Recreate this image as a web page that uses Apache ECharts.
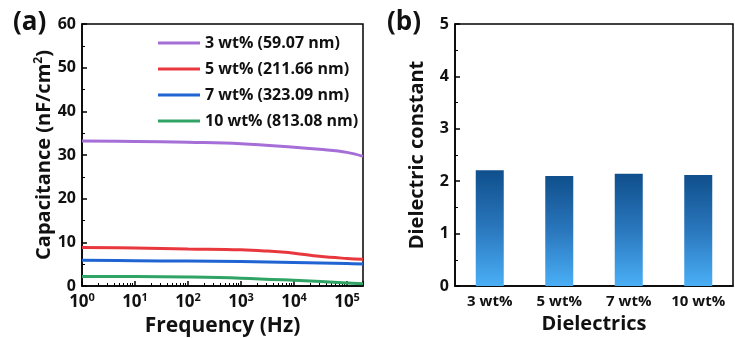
<!DOCTYPE html>
<html><head><meta charset="utf-8">
<script src="https://cdn.jsdelivr.net/npm/echarts@6/dist/echarts.min.js"></script>
<style>html,body{margin:0;padding:0;background:#fff}#c{width:735px;height:338px}</style>
</head><body><div id="c"></div>
<script>
// ---- Data (a): capacitance vs frequency ----
const seriesNames = ['3 wt% (59.07 nm)', '5 wt% (211.66 nm)', '7 wt% (323.09 nm)', '10 wt% (813.08 nm)'];
const seriesColors = ['#a66fd8', '#e8383d', '#1f64d2', '#2fa464'];
const cap3 = [[1,33.2],[10,33.1],[100,32.9],[1000,32.6],[10000,31.8],[30000,31.3],[100000,30.6],[200000,29.7]];
const cap5 = [[1,8.8],[10,8.7],[100,8.5],[1000,8.3],[3000,8.0],[10000,7.5],[30000,6.8],[100000,6.3],[200000,6.1]];
const cap7 = [[1,5.9],[10,5.8],[100,5.7],[1000,5.6],[10000,5.4],[100000,5.15],[200000,5.05]];
const cap10 = [[1,2.2],[10,2.15],[100,2.05],[1000,1.8],[10000,1.3],[100000,0.7],[200000,0.5]];
const capTicks = [0,10,20,30,40,50,60];
// ---- Data (b): dielectric constant ----
const dielCategories = ['3 wt%', '5 wt%', '7 wt%', '10 wt%'];
const dielValues = [2.21, 2.10, 2.14, 2.12];
const dielTicks = [0,1,2,3,4,5];

const FONT = '"Open Sans", "DejaVu Sans", sans-serif';
const chart = echarts.init(document.getElementById('c'), null, {renderer: 'canvas'});
const capData = [cap3, cap5, cap7, cap10];
const axisLineStyle = {color: '#000', width: 1.5};
const lbl = {color: '#111', fontFamily: FONT, fontWeight: 'bold', fontSize: 16};
const nameStyle = {color: '#111', fontFamily: FONT, fontWeight: 'bold', fontSize: 20};

chart.setOption({
  backgroundColor: '#fff',
  animation: false,
  title: [
    {text: '(a)', left: 8, top: 5, textStyle: {fontFamily: FONT, fontWeight: 'bold', fontSize: 26, color: '#111'}},
    {text: '(b)', left: 382, top: 5, textStyle: {fontFamily: FONT, fontWeight: 'bold', fontSize: 26, color: '#111'}}
  ],
  legend: {
    orient: 'vertical', left: 153, top: 29, icon: 'rect', itemWidth: 42, itemHeight: 3, itemGap: 8,
    textStyle: {fontFamily: FONT, fontWeight: 'bold', fontSize: 16, color: '#111', lineHeight: 18},
    data: seriesNames
  },
  grid: [
    {left: 82, top: 24, width: 281, height: 262, outerBoundsMode: 'none', show: true, borderColor: '#000', borderWidth: 1.5, backgroundColor: 'transparent'},
    {left: 455, top: 24, width: 278, height: 262, outerBoundsMode: 'none', show: true, borderColor: '#000', borderWidth: 1.5, backgroundColor: 'transparent'}
  ],
  xAxis: [
    {gridIndex: 0, type: 'log', logBase: 10, min: 1, max: 200000,
     name: 'Frequency (Hz)', nameLocation: 'middle', nameGap: 27, nameTextStyle: {...nameStyle, fontSize: 21},
     axisLine: {lineStyle: axisLineStyle},
     axisTick: {inside: true, length: 5, lineStyle: {color: '#000', width: 1.5}},
     minorTick: {show: true, splitNumber: 9, length: 3, lineStyle: {color: '#000', width: 1}},
     splitLine: {show: false},
     axisLabel: {margin: 6, ...lbl, fontSize: 17,
       formatter: v => { const e = Math.round(Math.log10(v)); return Math.abs(Math.log10(v) - e) < 1e-6 ? '10{s|' + e + '}' : ''; },
       rich: {s: {fontFamily: FONT, fontWeight: 'bold', fontSize: 11, color: '#111', verticalAlign: 'top', padding: [0,0,9,0]}}
     }},
    {gridIndex: 1, type: 'category', data: dielCategories,
     name: 'Dielectrics', nameLocation: 'middle', nameGap: 27, nameTextStyle: nameStyle,
     axisLine: {lineStyle: axisLineStyle},
     axisTick: {inside: true, length: 4, lineStyle: {color: '#000', width: 1}},
     axisLabel: {margin: 8, interval: 0, ...lbl, fontSize: 15}}
  ],
  yAxis: [
    {gridIndex: 0, type: 'value', min: 0, max: 60, interval: 10,
     name: 'Capacitance (nF/cm{s|2})', nameLocation: 'middle', nameGap: 27,
     nameTextStyle: {...nameStyle, rich: {s: {fontFamily: FONT, fontWeight: 'bold', fontSize: 12, color: '#111', verticalAlign: 'top', padding: [0,0,10,0]}}},
     axisLine: {show: true, lineStyle: axisLineStyle},
     axisTick: {show: true, inside: true, length: 5, lineStyle: {color: '#000', width: 1.5}},
     minorTick: {show: true, splitNumber: 2, length: 3, lineStyle: {color: '#000', width: 1}},
     splitLine: {show: false},
     axisLabel: {margin: 6, ...lbl, formatter: v => capTicks.includes(v) ? String(v) : ''}},
    {gridIndex: 1, type: 'value', min: 0, max: 5, interval: 1,
     name: 'Dielectric constant', nameLocation: 'middle', nameGap: 28, nameTextStyle: nameStyle,
     axisLine: {show: true, lineStyle: axisLineStyle},
     axisTick: {show: true, inside: true, length: 5, lineStyle: {color: '#000', width: 1.5}},
     minorTick: {show: true, splitNumber: 2, length: 3, lineStyle: {color: '#000', width: 1}},
     splitLine: {show: false},
     axisLabel: {margin: 6, ...lbl, formatter: v => dielTicks.includes(v) ? String(v) : ''}}
  ],
  series: [
    ...capData.map((d, i) => ({
      name: seriesNames[i], type: 'line', xAxisIndex: 0, yAxisIndex: 0, data: d,
      smooth: 0.4, showSymbol: false, symbol: 'none',
      lineStyle: {color: seriesColors[i], width: 3}, itemStyle: {color: seriesColors[i]}
    })),
    {type: 'bar', xAxisIndex: 1, yAxisIndex: 1, data: dielValues, barWidth: 28,
     itemStyle: {color: new echarts.graphic.LinearGradient(0, 0, 0, 1, [
       {offset: 0, color: '#0f4f8c'}, {offset: 0.5, color: '#2a77bd'}, {offset: 1, color: '#4aaff6'}])}}
  ]
});
</script></body></html>
